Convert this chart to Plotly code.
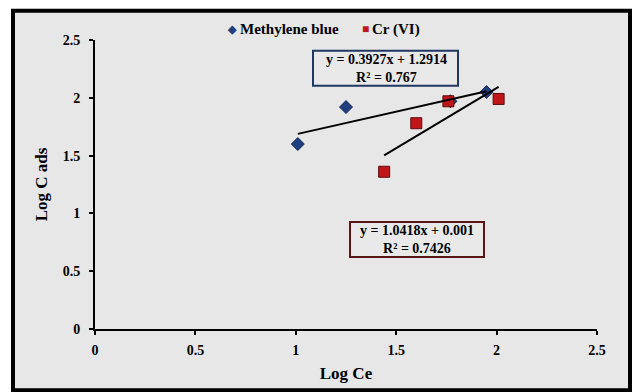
import plotly.graph_objects as go

# Adsorption isotherm data (log-log)
mb_log_ce = [1.01, 1.25, 1.77, 1.95]
mb_log_cads = [1.60, 1.92, 1.97, 2.05]

cr_log_ce = [1.44, 1.60, 1.76, 2.01]
cr_log_cads = [1.36, 1.78, 1.97, 1.99]

# Linear fit coefficients (slope, intercept, R²)
mb_fit = (0.3927, 1.2914, 0.767)
cr_fit = (1.0418, 0.001, 0.7426)

tick_vals = [0, 0.5, 1, 1.5, 2, 2.5]
tick_text = ["0", "0.5", "1", "1.5", "2", "2.5"]

MB_COLOR = "#1f3f7f"
CR_COLOR = "#c0161a"
FONT = "Liberation Serif, Times New Roman, serif"

L, R, T, B = 95, 36, 40, 55
W, H = 633, 392
pw, ph = W - L - R, H - T - B


def px_x(p):
    return (p - L) / pw


def px_y(p):
    return (H - B - p) / ph


def fit_line(xs, coef):
    x0, x1 = min(xs), max(xs)
    return [x0, x1], [coef[0] * x0 + coef[1], coef[0] * x1 + coef[1]]


def text(x, y, s, size=15, color="black", xanchor="center"):
    fig.add_annotation(
        xref="paper", yref="paper", x=px_x(x), y=px_y(y), text=s,
        showarrow=False, xanchor=xanchor, yanchor="middle", borderpad=0,
        font=dict(family=FONT, size=size, color=color, weight="bold"),
    )


def box(x0, y0, x1, y1, color):
    fig.add_shape(type="rect", xref="paper", yref="paper",
                  x0=px_x(x0), x1=px_x(x1), y0=px_y(y1), y1=px_y(y0),
                  line=dict(color=color, width=2), fillcolor="#e9e9e9")


fig = go.Figure()

fig.add_trace(go.Scatter(
    x=mb_log_ce, y=mb_log_cads, mode="markers", name="Methylene blue",
    marker=dict(symbol="diamond", size=10, color=MB_COLOR,
                line=dict(color="#14285a", width=1)),
))
fig.add_trace(go.Scatter(
    x=cr_log_ce, y=cr_log_cads, mode="markers", name="Cr (VI)",
    marker=dict(symbol="square", size=11, color=CR_COLOR,
                line=dict(color="#5e0a0a", width=1)),
))

mx, my = fit_line(mb_log_ce, mb_fit)
fig.add_trace(go.Scatter(x=mx, y=my, mode="lines", showlegend=False,
                         line=dict(color="black", width=2), hoverinfo="skip"))
cx, cy = fit_line(cr_log_ce, cr_fit)
fig.add_trace(go.Scatter(x=cx, y=cy, mode="lines", showlegend=False,
                         line=dict(color="black", width=2), hoverinfo="skip"))

# Chart area frame
fig.add_shape(type="rect", xref="paper", yref="paper",
              x0=px_x(13), x1=px_x(630), y0=px_y(400), y1=px_y(10),
              fillcolor="#e7e7e7", line=dict(color="black", width=4),
              layer="below")

# Fit equation boxes
box(313, 51, 458, 87, "#1f3864")
text(386, 69, f"y = {mb_fit[0]}x + {mb_fit[1]}<br>R² = {mb_fit[2]}", size=14)

box(350, 227, 484, 263, "#5a1515")
text(417, 245, f"y = {cr_fit[0]}x + {cr_fit[1]}<br>R² = {cr_fit[2]}", size=14)

# Legend
text(232, 29, "◆", size=11, color=MB_COLOR)
text(239, 29, "Methylene blue", xanchor="left")
text(365, 29, "■", size=12, color=CR_COLOR)
text(371, 29, "Cr (VI)", xanchor="left")

axis_common = dict(
    range=[0, 2.5], tickvals=tick_vals, ticktext=tick_text,
    showgrid=False, zeroline=False, showline=True, linecolor="black",
    linewidth=2, ticks="outside", ticklen=4, tickwidth=2, tickcolor="black",
    tickfont=dict(family=FONT, size=14, color="black", weight="bold"),
)

fig.update_layout(
    width=W, height=H,
    margin=dict(l=L, r=R, t=T, b=B),
    paper_bgcolor="white", plot_bgcolor="rgba(0,0,0,0)",
    xaxis=dict(axis_common, ticklabelstandoff=3,
               title=dict(text="Log Ce", standoff=10,
                          font=dict(family=FONT, size=17, color="black",
                                    weight="bold"))),
    yaxis=dict(axis_common, ticklabelstandoff=6,
               title=dict(text="Log C ads", standoff=11,
                          font=dict(family=FONT, size=17, color="black",
                                    weight="bold"))),
    showlegend=False,
)

fig.write_html("out.html")
